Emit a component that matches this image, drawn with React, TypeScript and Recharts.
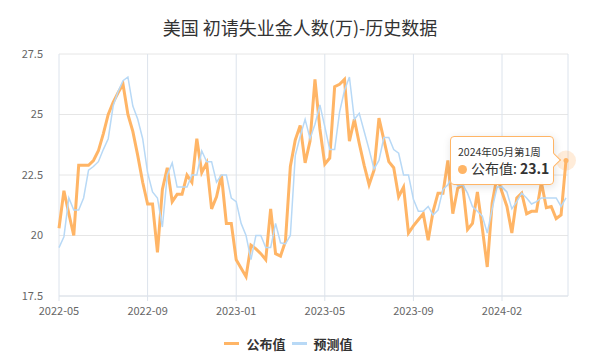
import {
  LineChart,
  Line,
  XAxis,
  YAxis,
  CartesianGrid,
  Tooltip,
  Legend,
} from "recharts";

// weekly values, first week 2022-05-12, last week 2024-05-02
const published = [
  20.3, 21.85, 20.9, 20.0, 22.9, 22.9, 22.9, 23.1, 23.5, 24.2,
  25.0, 25.5, 25.9, 26.25, 25.0, 24.3, 23.3, 22.2, 21.3, 21.3,
  19.3, 21.9, 22.8, 21.4, 21.7, 21.7, 22.5, 22.2, 24.0, 22.6,
  23.0, 21.1, 21.6, 22.5, 20.5, 20.5, 19.0, 18.65, 18.3, 19.6,
  19.45, 19.25, 19.0, 21.1, 19.25, 19.15, 19.75, 22.85, 23.95, 24.55,
  23.0, 23.9, 26.45, 24.4, 22.95, 23.2, 26.15, 26.25, 26.45, 23.9,
  24.8, 23.8, 22.9, 22.1, 22.7, 24.85, 23.95, 23.05, 22.8, 21.6,
  22.0, 20.1, 20.4, 20.65, 20.9, 19.8, 21.0, 21.75, 21.75, 23.1,
  20.9, 21.95, 22.1, 20.25, 20.5, 21.8, 20.3, 18.7, 21.35, 22.45,
  21.8, 21.2, 20.1, 21.55, 21.75, 20.9, 21.0, 21.0, 22.2, 21.15,
  21.2, 20.7, 20.85, 23.1,
];

const forecast = [
  19.5, 19.95, 21.55, 21.05, 21.05, 21.55, 22.7, 22.85, 23.05, 23.55,
  24.0, 25.35, 25.95, 26.4, 26.55, 25.35, 24.8, 24.0, 22.6, 21.8,
  21.55, 20.35, 22.5, 23.0, 22.0, 22.0, 22.0, 22.5, 22.5, 23.5,
  23.05, 23.05, 22.2, 22.5, 22.5, 21.55, 21.4, 20.5, 20.0, 19.0,
  20.0, 20.0, 19.5, 19.5, 20.5, 19.7, 19.65, 20.0, 23.3, 24.1,
  24.8, 24.0, 24.6, 25.4, 24.5, 23.55, 23.55, 25.1, 26.0, 26.55,
  24.8, 25.05, 24.3, 23.55, 22.75, 23.1, 24.05, 24.05, 23.55, 23.4,
  22.5, 22.5, 21.5, 21.0, 21.0, 21.2, 20.85, 21.05, 21.9, 22.1,
  22.45, 22.05, 22.1, 21.75, 21.2, 21.0, 20.8, 20.1, 21.1, 22.0,
  22.0, 21.8, 21.1, 21.4, 21.75, 21.55, 21.3, 21.4, 21.55, 21.55,
  21.55, 21.55, 21.2, 21.55,
];

const yTicks = [17.5, 20, 22.5, 25, 27.5];

const START = Date.UTC(2022, 4, 12);
const WEEK = 7 * 24 * 3600 * 1000;
const weeks = published.map((_, i) =>
  new Date(START + i * WEEK).toISOString().slice(0, 10)
);

const data = weeks.map((w, i) => ({
  week: w,
  published: published[i],
  forecast: forecast[i],
}));

const ORANGE = "#FFB566";
const BLUE = "#B8D9F6";
const FONT = '"Noto Sans CJK SC", "Noto Sans", sans-serif';

function weekLabel(d: string) {
  const [y, m, day] = d.split("-");
  return `${y}年${m}月第${Math.ceil(Number(day) / 7)}周`;
}

function TipBox({ active, payload, label }: any) {
  if (!active || !payload || !payload.length) return null;
  const p = payload.find((x: any) => x.dataKey === "published");
  if (!p) return null;
  return (
    <div
      style={{
        position: "relative",
        width: 88,
        padding: "7px 7px",
        background: "rgba(255,255,255,0.96)",
        border: `1px solid ${ORANGE}`,
        borderRadius: 4,
        boxShadow: "1px 2px 8px rgba(0,0,0,0.12)",
        fontFamily: FONT,
        color: "#333",
      }}
    >
      <div style={{ fontSize: 10.5, lineHeight: "15px", whiteSpace: "nowrap" }}>
        {weekLabel(label)}
      </div>
      <div style={{ fontSize: 14, lineHeight: "18px", whiteSpace: "nowrap" }}>
        <span
          style={{
            display: "inline-block",
            width: 9,
            height: 9,
            borderRadius: 5,
            background: ORANGE,
            marginRight: 4,
          }}
        />
        公布值:{" "}
        <b>{p.value}</b>
      </div>
      <div
        style={{
          position: "absolute",
          right: -6,
          top: 18,
          width: 9,
          height: 9,
          background: "#fff",
          borderTop: `1px solid ${ORANGE}`,
          borderRight: `1px solid ${ORANGE}`,
          transform: "rotate(45deg)",
        }}
      />
    </div>
  );
}

function ActiveHalo(props: any) {
  const { cx, cy } = props;
  return (
    <g>
      <circle cx={cx} cy={cy} r={10} fill="rgba(255,181,102,0.25)" />
      <circle cx={cx} cy={cy} r={2.5} fill={ORANGE} />
    </g>
  );
}

function LegendBox() {
  const item = (color: string, text: string) => (
    <span style={{ display: "inline-flex", alignItems: "center", margin: "0 3px" }}>
      <span
        style={{
          display: "inline-block",
          width: 15,
          height: 3,
          background: color,
          marginRight: 7,
        }}
      />
      <span style={{ fontWeight: 700, fontSize: 13, color: "#333" }}>{text}</span>
    </span>
  );
  return (
    <div style={{ textAlign: "center", fontFamily: FONT, lineHeight: "20px", height: 20 }}>
      {item(ORANGE, "公布值")}
      {item(BLUE, "预测值")}
    </div>
  );
}

export default function App() {
  return (
    <div
      style={{
        position: "absolute",
        left: 0,
        top: 0,
        width: 600,
        height: 357,
        background: "#fff",
        fontFamily: FONT,
      }}
    >
      <div
        style={{
          position: "absolute",
          top: 14,
          left: 0,
          width: 600,
          textAlign: "center",
          fontSize: 18,
          lineHeight: "26px",
          color: "#333",
        }}
      >
        美国 初请失业金人数(万)-历史数据
      </div>
      <LineChart
        width={600}
        height={357}
        data={data}
        margin={{ top: 54, right: 32, left: 9, bottom: 9 }}
      >
        <CartesianGrid stroke="#E6E6E6" vertical={false} />
        <CartesianGrid stroke="#DCE3EC" horizontal={false} />
        <XAxis
          dataKey="week"
          interval={17}
          tickFormatter={(v: string) => v.slice(0, 7)}
          tick={{ fontSize: 11, fill: "#666", fontFamily: FONT }}
          tickLine={{ stroke: "#DCE3EC" }}
          tickSize={5}
          tickMargin={6}
          axisLine={{ stroke: "#DCE3EC" }}
          padding={{ left: 0, right: 2 }}
          height={32}
        />
        <YAxis
          domain={[17.5, 27.5]}
          ticks={yTicks}
          tick={{ fontSize: 11, fill: "#666", fontFamily: FONT }}
          tickLine={false}
          axisLine={false}
          tickMargin={10}
          width={50}
        />
        <Tooltip
          content={<TipBox />}
          defaultIndex={published.length - 1}
          active
          cursor={false}
          position={{ x: 450, y: 136 }}
          isAnimationActive={false}
        />
        <Legend verticalAlign="bottom" height={20} content={<LegendBox />} />
        <Line
          type="linear"
          dataKey="published"
          name="公布值"
          stroke={ORANGE}
          strokeWidth={3}
          dot={false}
          activeDot={<ActiveHalo />}
          isAnimationActive={false}
        />
        <Line
          type="linear"
          dataKey="forecast"
          name="预测值"
          stroke={BLUE}
          strokeWidth={1.5}
          dot={false}
          activeDot={false}
          isAnimationActive={false}
        />
      </LineChart>
    </div>
  );
}
